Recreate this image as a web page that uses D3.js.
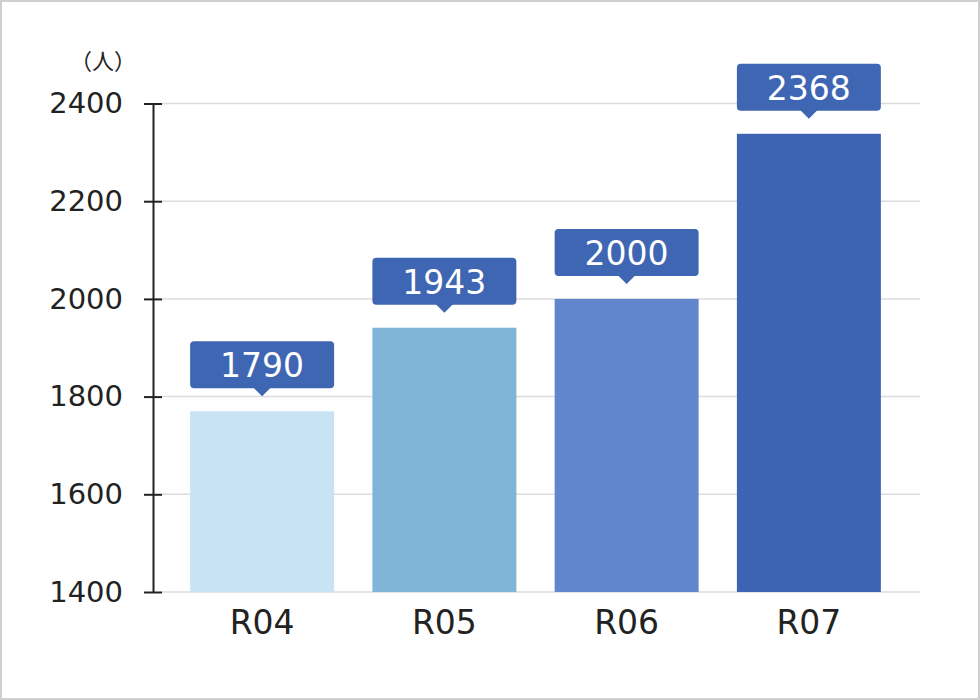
<!DOCTYPE html>
<html>
<head>
<meta charset="utf-8">
<script src="https://cdn.jsdelivr.net/npm/d3@7"></script>
<style>
  html, body { margin: 0; padding: 0; background: #fff; }
  svg { display: block; font-family: "DejaVu Sans", "Noto Sans CJK JP", sans-serif; }
</style>
</head>
<body>
<div id="chart"></div>
<script>
var categories = ["R04", "R05", "R06", "R07"];
// bar heights as drawn, and the callout labels as printed
var barValues = [1770, 1941, 2000, 2338];
var labelValues = ["1790", "1943", "2000", "2368"];
var yTicks = [1400, 1600, 1800, 2000, 2200, 2400];
var unitLabel = "（人）";
var colors = ["#c8e3f4", "#7fb5d7", "#6286cd", "#3d64b2"];

var dim = { width: 980, height: 700 };

var svg = d3.select("#chart").append("svg")
    .attr("width", dim.width)
    .attr("height", dim.height);

// outer frame
svg.append("rect")
    .attr("x", 1).attr("y", 1)
    .attr("width", dim.width - 2).attr("height", dim.height - 2)
    .attr("fill", "#fff")
    .attr("stroke", "#cfcfcf")
    .attr("stroke-width", 2);

var x = d3.scaleBand()
    .domain(categories)
    .range([171, 900])
    .paddingInner(0.21)
    .paddingOuter(0.105);

var y = d3.scaleLinear()
    .domain([1400, 2400])
    .range([592, 103.5]);

// gridlines
svg.append("g")
    .selectAll("line")
    .data(yTicks).enter()
    .append("line")
    .attr("x1", 162).attr("x2", 920)
    .attr("y1", d => y(d)).attr("y2", d => y(d))
    .attr("stroke", "#dcdcdc")
    .attr("stroke-width", 1.5);

// bars
svg.append("g")
    .selectAll("rect")
    .data(barValues).enter()
    .append("rect")
    .attr("x", (d, i) => x(categories[i]))
    .attr("width", x.bandwidth())
    .attr("y", d => y(d))
    .attr("height", d => y(1400) - y(d))
    .attr("fill", (d, i) => colors[i]);

// y axis
var yAxis = svg.append("g")
    .attr("transform", "translate(153,0)")
    .call(d3.axisLeft(y).tickValues(yTicks).tickSize(0).tickPadding(30).tickFormat(d3.format("d")));
yAxis.select(".domain").attr("stroke", "#222").attr("stroke-width", 2);
yAxis.selectAll(".tick text")
    .attr("fill", "#222")
    .style("font-family", "DejaVu Sans")
    .style("font-size", "29px");
yAxis.selectAll(".tick")
    .append("line")
    .attr("x1", -9).attr("x2", 9)
    .attr("stroke", "#222")
    .attr("stroke-width", 2);

svg.append("text")
    .attr("x", 136).attr("y", 69)
    .attr("text-anchor", "end")
    .attr("fill", "#222")
    .style("font-family", "Noto Sans CJK JP")
    .style("font-size", "22px")
    .text(unitLabel);

// category labels
svg.append("g")
    .selectAll("text")
    .data(categories).enter()
    .append("text")
    .attr("x", d => x(d) + x.bandwidth() / 2)
    .attr("y", 634)
    .attr("text-anchor", "middle")
    .attr("fill", "#222")
    .style("font-size", "33px")
    .text(d => d);

// callouts
var callout = svg.append("g")
    .selectAll("g")
    .data(barValues).enter()
    .append("g")
    .attr("transform", (d, i) => `translate(${x(categories[i])},${y(d)})`);

callout.append("rect")
    .attr("x", 0).attr("y", -70)
    .attr("width", x.bandwidth()).attr("height", 47)
    .attr("rx", 4)
    .attr("fill", "#3f66b3");

callout.append("path")
    .attr("d", () => {
        var c = x.bandwidth() / 2;
        return `M${c - 9},-24 L${c + 9},-24 L${c},-15 Z`;
    })
    .attr("fill", "#3f66b3");

callout.append("text")
    .attr("x", x.bandwidth() / 2)
    .attr("y", -34)
    .attr("text-anchor", "middle")
    .attr("fill", "#fff")
    .style("font-size", "33px")
    .text((d, i) => labelValues[i]);
</script>
</body>
</html>
